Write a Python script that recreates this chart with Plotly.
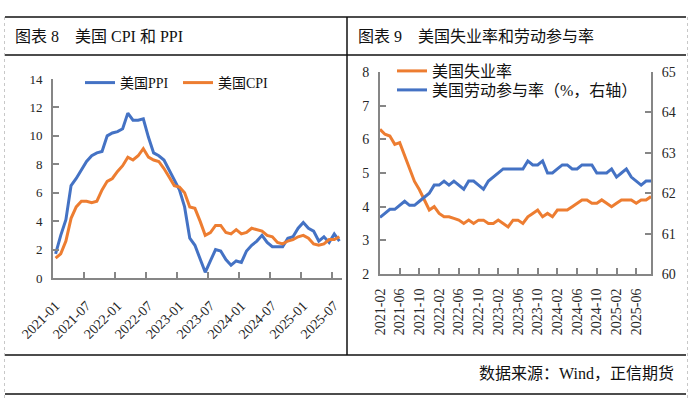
import plotly.graph_objects as go

W, H = 693, 399

# ---------------- Data: left chart (US CPI & PPI, YoY %) ----------------
left_months = [f"{y}-{m:02d}" for y in range(2021, 2026) for m in range(1, 13)][:56]
left_tick_labels = ["2021-01", "2021-07", "2022-01", "2022-07", "2023-01",
                    "2023-07", "2024-01", "2024-07", "2025-01", "2025-07"]
ppi = [1.7, 3.0, 4.1, 6.5, 7.0, 7.6, 8.2, 8.6, 8.8, 8.9, 10.0, 10.2,
       10.3, 10.5, 11.6, 11.1, 11.1, 11.2, 9.9, 8.8, 8.6, 8.3, 7.6, 6.8,
       6.2, 5.0, 2.8, 2.3, 1.3, 0.4, 1.2, 2.0, 1.9, 1.3, 0.9, 1.2,
       1.1, 1.9, 2.3, 2.6, 3.0, 2.5, 2.2, 2.2, 2.2, 2.8, 2.9, 3.5,
       3.9, 3.5, 3.3, 2.6, 2.9, 2.5, 3.1, 2.6]
cpi = [1.4, 1.7, 2.6, 4.2, 5.0, 5.4, 5.4, 5.3, 5.4, 6.2, 6.8, 7.0,
       7.5, 7.9, 8.5, 8.3, 8.6, 9.1, 8.5, 8.3, 8.2, 7.7, 7.1, 6.5,
       6.4, 6.0, 5.0, 4.9, 4.0, 3.0, 3.2, 3.7, 3.7, 3.2, 3.1, 3.4,
       3.1, 3.2, 3.5, 3.4, 3.3, 3.0, 2.9, 2.5, 2.4, 2.6, 2.7, 2.9,
       3.0, 2.8, 2.4, 2.3, 2.4, 2.7, 2.7, 2.9]

# ---------------- Data: right chart (unemployment & participation) ----------------
right_months = [f"{y}-{m:02d}" for y in range(2021, 2026) for m in range(1, 13)][1:57]
right_tick_labels = ["2021-02", "2021-06", "2021-10", "2022-02", "2022-06", "2022-10",
                     "2023-02", "2023-06", "2023-10", "2024-02", "2024-06", "2024-10",
                     "2025-02", "2025-06"]
unemp = [6.3, 6.15, 6.1, 5.85, 5.9, 5.5, 5.1, 4.75, 4.5, 4.2, 3.9, 4.0,
         3.8, 3.7, 3.7, 3.65, 3.6, 3.5, 3.6, 3.5, 3.6, 3.6, 3.5, 3.5,
         3.6, 3.5, 3.4, 3.6, 3.6, 3.5, 3.7, 3.8, 3.9, 3.7, 3.8, 3.7,
         3.9, 3.9, 3.9, 4.0, 4.1, 4.2, 4.2, 4.1, 4.1, 4.2, 4.1, 4.0,
         4.1, 4.2, 4.2, 4.2, 4.1, 4.2, 4.2, 4.3]
lfpr = [61.4, 61.5, 61.6, 61.6, 61.7, 61.8, 61.7, 61.7, 61.8, 61.9, 62.0, 62.2,
        62.2, 62.3, 62.2, 62.3, 62.2, 62.1, 62.3, 62.3, 62.2, 62.1, 62.3, 62.4,
        62.5, 62.6, 62.6, 62.6, 62.6, 62.6, 62.8, 62.7, 62.7, 62.8, 62.5, 62.5,
        62.6, 62.7, 62.7, 62.6, 62.6, 62.7, 62.7, 62.7, 62.5, 62.5, 62.5, 62.6,
        62.4, 62.5, 62.6, 62.4, 62.3, 62.2, 62.3, 62.3]

BLUE = "#4472C4"
ORANGE = "#ED7D31"
AXIS = "#868686"
SERIF = "Liberation Serif, Noto Sans CJK SC"
CJK = "Liberation Serif, Noto Sans CJK SC"
NB = "\u00a0"


def px(p):
    return p / W


def py(p):
    return 1 - p / H


left_idx = list(range(len(left_months)))
right_idx = list(range(len(right_months)))
left_tickvals = [left_months.index(l) for l in left_tick_labels]
right_tickvals = [right_months.index(l) for l in right_tick_labels]

fig = go.Figure()

fig.add_trace(go.Scatter(x=left_idx, y=ppi, name="美国PPI", mode="lines",
                         line=dict(color=BLUE, width=3), xaxis="x", yaxis="y",
                         legend="legend"))
fig.add_trace(go.Scatter(x=left_idx, y=cpi, name="美国CPI", mode="lines",
                         line=dict(color=ORANGE, width=3), xaxis="x", yaxis="y",
                         legend="legend2"))
fig.add_trace(go.Scatter(x=right_idx, y=unemp, name="美国失业率", mode="lines",
                         line=dict(color=ORANGE, width=3), xaxis="x2", yaxis="y2",
                         legend="legend3"))
fig.add_trace(go.Scatter(x=right_idx, y=lfpr, name="美国劳动参与率（%，右轴）", mode="lines",
                         line=dict(color=BLUE, width=3), xaxis="x2", yaxis="y3",
                         legend="legend4"))

tickfont = dict(family=SERIF, size=14, color="#262626")
common = dict(showgrid=False, zeroline=False, showline=True, linecolor=AXIS,
              linewidth=2, automargin=False)


def leg(xp, yp, size):
    return dict(orientation="v", x=px(xp), y=py(yp), xanchor="left", yanchor="middle",
                font=dict(family=CJK, size=size, color="#111111"),
                bgcolor="rgba(0,0,0,0)", itemwidth=30, tracegroupgap=0)


fig.update_layout(
    width=W, height=H,
    margin=dict(l=0, r=0, t=0, b=0, autoexpand=False),
    paper_bgcolor="white", plot_bgcolor="white",
    showlegend=True,
    xaxis=dict(domain=[px(53), px(342)], range=[-0.5, len(left_idx) - 0.5],
               tickmode="array", tickvals=left_tickvals, ticktext=left_tick_labels,
               tickangle=-45, ticks="", anchor="y",
               tickfont=tickfont, ticklabelstandoff=12,
               minor=dict(tickmode="array",
                          tickvals=[v + 5.5 for v in left_tickvals[:-1]],
                          ticks="inside", ticklen=6, tickwidth=1.5, tickcolor=AXIS,
                          showgrid=False), **common),
    yaxis=dict(domain=[py(278), py(79)], range=[0, 14], dtick=2, tick0=0,
               ticks="inside", ticklen=6, tickwidth=1.5, tickcolor=AXIS,
               anchor="x", tickfont=dict(family=SERIF, size=13, color="#262626"),
               ticklabelstandoff=6, **common),
    xaxis2=dict(domain=[px(380), px(651)], range=[0, len(right_idx) - 1],
                tickmode="array", tickvals=right_tickvals, ticktext=right_tick_labels,
                tickangle=-90, ticks="inside", ticklen=6, tickwidth=1.5, tickcolor=AXIS,
                anchor="y2", tickfont=tickfont, ticklabelstandoff=7, **common),
    yaxis2=dict(domain=[py(274), py(72)], range=[2, 8], dtick=1, tick0=2,
                ticks="inside", ticklen=6, tickwidth=1.5, tickcolor=AXIS,
                anchor="x2", tickfont=tickfont, ticklabelstandoff=6, **common),
    yaxis3=dict(domain=[py(274), py(72)], range=[60, 65], dtick=1, tick0=60,
                overlaying="y2", side="right", anchor="x2",
                ticks="inside", ticklen=6, tickwidth=1.5, tickcolor=AXIS,
                tickfont=tickfont, ticklabelstandoff=6, **common),
    legend=leg(80, 83, 14),
    legend2=leg(178, 83, 14),
    legend3=leg(392, 71, 16),
    legend4=leg(392, 90, 16),
)

# Frame lines
line_black = dict(color="#111111", width=1.5)
shapes = []
for yy in (17, 55, 355, 394):
    shapes.append(dict(type="line", xref="paper", yref="paper",
                       x0=px(5), x1=px(686), y0=py(yy), y1=py(yy), line=line_black))
shapes.append(dict(type="line", xref="paper", yref="paper",
                   x0=px(347), x1=px(347), y0=py(17), y1=py(355), line=line_black))
for xx in (4.5, 687.5):
    shapes.append(dict(type="line", xref="paper", yref="paper",
                       x0=px(xx), x1=px(xx), y0=py(17), y1=py(398),
                       line=dict(color="#c8c8c8", width=1, dash="dot")))
fig.update_layout(shapes=shapes)

title_font = dict(family=CJK, size=16, color="#111111")
fig.add_annotation(text=f"图表{NB}8{NB*4}美国{NB}CPI{NB}和{NB}PPI", xref="paper", yref="paper",
                   x=px(13), y=py(36), xanchor="left", yanchor="middle",
                   showarrow=False, font=title_font)
fig.add_annotation(text=f"图表{NB}9{NB*4}美国失业率和劳动参与率", xref="paper", yref="paper",
                   x=px(356), y=py(36), xanchor="left", yanchor="middle",
                   showarrow=False, font=title_font)
fig.add_annotation(text="数据来源：Wind，正信期货", xref="paper", yref="paper",
                   x=px(676), y=py(373), xanchor="right", yanchor="middle",
                   showarrow=False, font=title_font)

fig.write_html("out.html", config={"displayModeBar": False},
               post_script="document.body.style.margin='0';document.body.style.overflow='hidden';")
